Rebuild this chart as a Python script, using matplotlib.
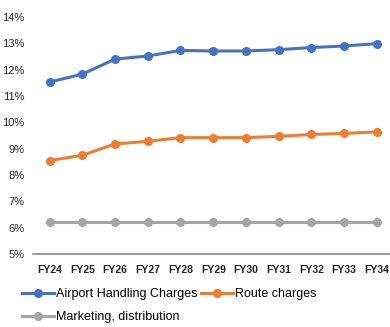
import matplotlib

matplotlib.use("Agg")
import matplotlib.pyplot as plt
from matplotlib.ticker import FuncFormatter

years = ["FY24", "FY25", "FY26", "FY27", "FY28", "FY29",
         "FY30", "FY31", "FY32", "FY33", "FY34"]
airport_handling = [11.53, 11.83, 12.40, 12.52, 12.73, 12.71,
                    12.71, 12.76, 12.84, 12.90, 12.99]
route_charges = [8.55, 8.75, 9.18, 9.28, 9.42, 9.42,
                 9.42, 9.47, 9.54, 9.58, 9.64]
marketing = [6.2] * 11

plt.rcParams["font.family"] = ["Liberation Sans", "DejaVu Sans"]

fig = plt.figure(figsize=(3.9, 3.27), dpi=100)
ax = fig.add_axes([0.085, 0.223, 0.915, 0.725])

x = range(len(years))
kw = dict(lw=2.2, marker="o", ms=5.5)
l1, = ax.plot(x, airport_handling, color="#4472C4", label="Airport Handling Charges", **kw)
l2, = ax.plot(x, route_charges, color="#ED7D31", label="Route charges", **kw)
l3, = ax.plot(x, marketing, color="#A5A5A5", label="Marketing, distribution", **kw)

ax.set_xlim(-0.5, 10.4)
ax.set_ylim(5, 14)
ax.set_yticks(range(5, 15))
ax.yaxis.set_major_formatter(FuncFormatter(lambda v, _: f"{v:.0f}%"))
ax.set_xticks(list(x))
ax.set_xticklabels(years, fontweight="bold", fontsize=7.5)
ax.tick_params(axis="y", labelsize=8, length=0, pad=6, colors="#222222")
ax.tick_params(axis="x", length=0, pad=8, colors="#222222")

for s in ("top", "right", "left"):
    ax.spines[s].set_visible(False)
ax.spines["bottom"].set_color("#888888")
ax.spines["bottom"].set_linewidth(1.2)

# order handles so the first row reads Airport / Route
fig.legend([l1, l3, l2], [l1.get_label(), l3.get_label(), l2.get_label()],
           ncol=2, loc="upper left", bbox_to_anchor=(0.056, 0.118),
           frameon=False, fontsize=9, handlelength=2.6, handletextpad=0.1,
           columnspacing=0.3, labelspacing=0.85, borderaxespad=0, borderpad=0)

fig.savefig("out.png", dpi=100)
